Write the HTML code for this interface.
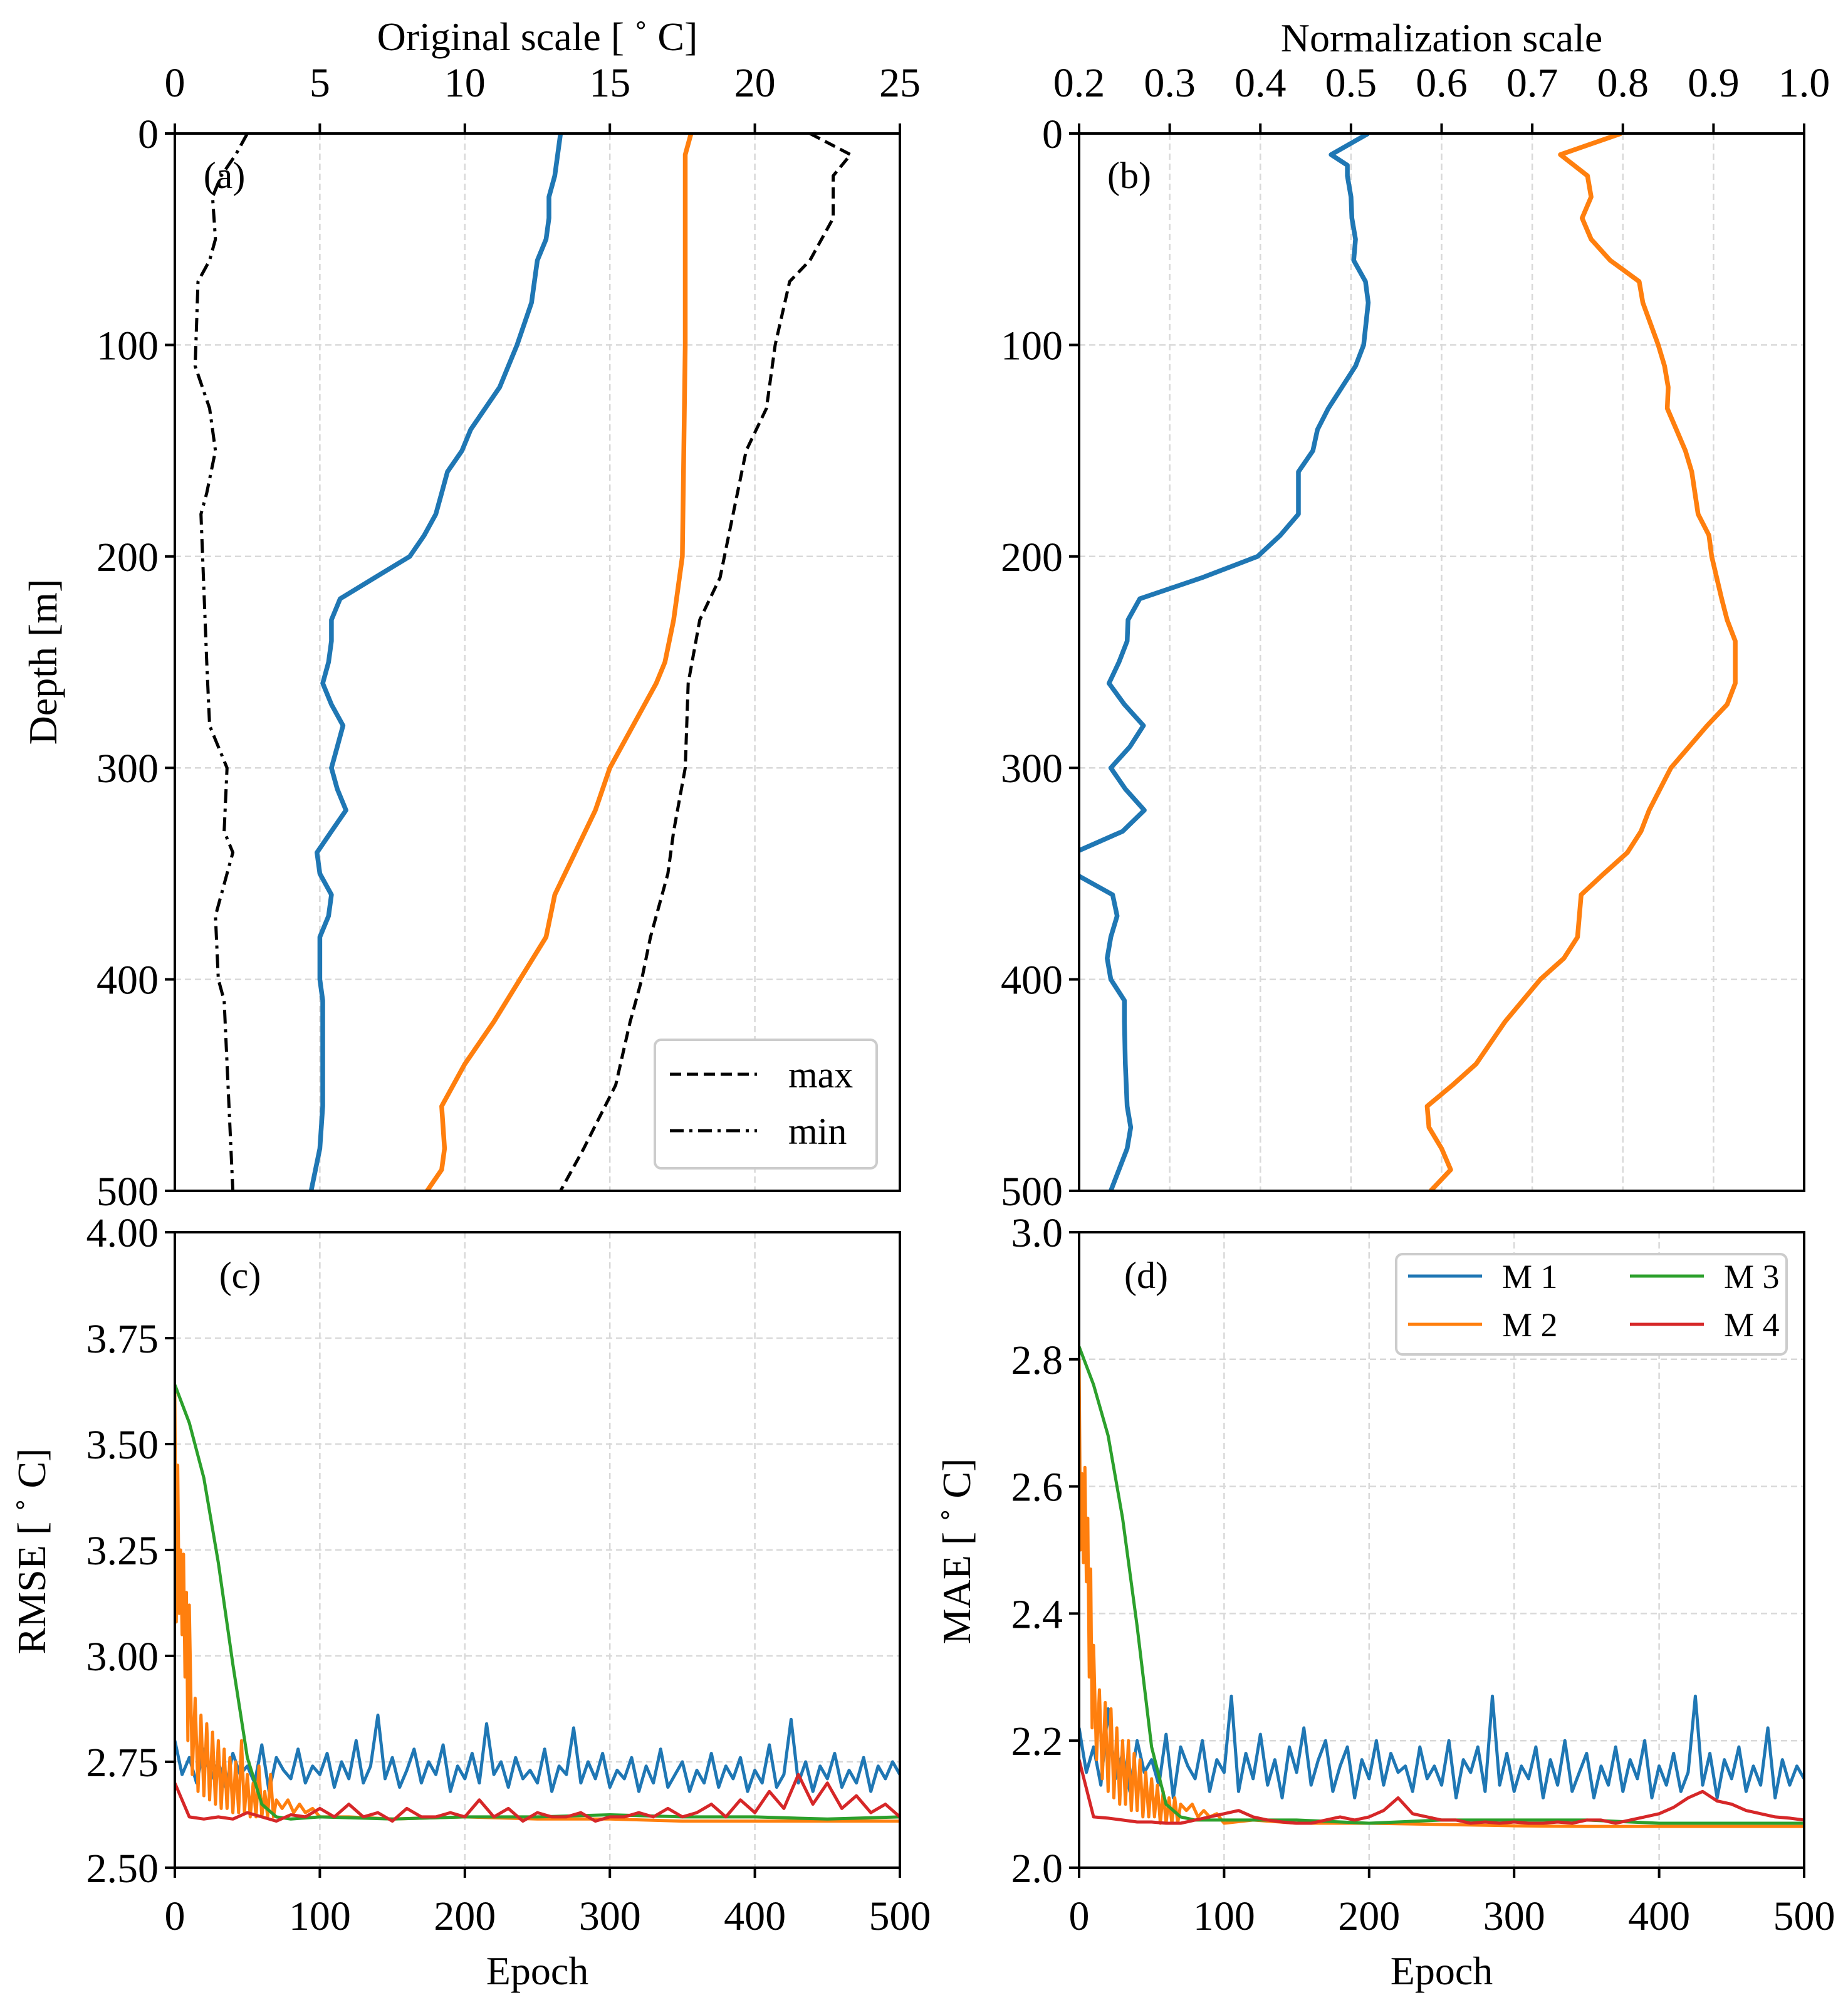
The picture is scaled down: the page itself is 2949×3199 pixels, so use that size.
<!DOCTYPE html>
<html><head><meta charset="utf-8"><style>
html,body{margin:0;padding:0;background:#fff}
svg{display:block;font-family:"Liberation Serif",serif}
</style></head><body>
<svg id="fig" width="2949" height="3199" viewBox="0 0 2949 3199" xmlns="http://www.w3.org/2000/svg"></svg>
<script>
// ---------- data: panel (a) ----------
const depthA1 = [0,10,20,30,40,50,60,80,100,110,120,130,140,150,160,170,180,190,200,210,220,230,240,250,260,270,280,290,300,310,320,330,340,350,360,370,380,390,400,410,420,440,460,480,500];
const blueA  = [13.3,13.2,13.1,12.9,12.9,12.8,12.5,12.3,11.8,11.5,11.2,10.7,10.2,9.9,9.4,9.2,9.0,8.6,8.1,6.9,5.7,5.4,5.4,5.3,5.1,5.4,5.8,5.6,5.4,5.6,5.9,5.4,4.9,5.0,5.4,5.3,5.0,5.0,5.0,5.1,5.1,5.1,5.1,5.0,4.7];
const depthA2 = [0,10,50,100,200,230,250,260,280,300,320,340,360,380,400,420,440,460,480,490,500];
const orangeA = [17.8,17.6,17.6,17.6,17.5,17.2,16.9,16.6,15.8,15.0,14.5,13.8,13.1,12.8,11.9,11.0,10.0,9.2,9.3,9.2,8.7];
const depthMax = [0,10,20,40,60,70,100,130,150,170,190,210,230,260,300,330,350,380,400,420,450,480,500];
const maxA = [21.9,23.3,22.7,22.7,21.9,21.2,20.7,20.4,19.7,19.4,19.1,18.8,18.1,17.7,17.6,17.2,17.0,16.4,16.1,15.7,15.2,14.1,13.3];
const depthMin = [0,10,20,30,50,60,70,110,130,150,170,180,250,280,300,330,340,350,370,400,410,500];
const minA = [2.5,2.1,1.6,1.3,1.4,1.2,0.8,0.7,1.2,1.4,1.1,0.9,1.1,1.2,1.8,1.7,2.0,1.8,1.4,1.5,1.7,2.0];
// ---------- data: panel (b) ----------
const depthB1 = [0,10,15,20,30,40,50,60,70,80,100,110,120,130,140,150,160,170,180,190,200,210,220,230,240,250,260,270,280,290,300,310,320,330,340,350,360,370,380,390,400,410,420,440,460,470,480,500];
const blueB = [0.519,0.478,0.496,0.496,0.50,0.501,0.505,0.503,0.516,0.519,0.514,0.505,0.49,0.475,0.463,0.458,0.442,0.442,0.442,0.422,0.397,0.336,0.267,0.254,0.253,0.244,0.233,0.25,0.271,0.256,0.235,0.251,0.272,0.248,0.195,0.195,0.237,0.242,0.235,0.231,0.235,0.25,0.25,0.251,0.253,0.257,0.253,0.235];
const depthB2 = [0,10,20,30,40,50,60,70,80,100,110,120,130,140,150,160,180,190,200,220,230,240,260,270,280,300,320,330,340,350,360,380,390,400,420,440,450,460,470,480,490,500];
const orangeB = [0.798,0.731,0.761,0.765,0.755,0.765,0.786,0.818,0.822,0.839,0.846,0.85,0.849,0.859,0.869,0.876,0.883,0.895,0.898,0.909,0.915,0.924,0.924,0.915,0.893,0.853,0.829,0.82,0.805,0.779,0.754,0.75,0.735,0.709,0.67,0.638,0.612,0.584,0.586,0.60,0.61,0.588];
// ---------- data: panel (c) RMSE ----------
const m1Rmse = [2.80,2.72,2.76,2.70,2.78,2.71,2.75,2.69,2.77,2.72,2.74,2.70,2.79,2.68,2.76,2.73,2.71,2.78,2.70,2.74,2.72,2.77,2.69,2.75,2.71,2.80,2.70,2.74,2.86,2.71,2.76,2.69,2.73,2.78,2.70,2.75,2.72,2.79,2.68,2.74,2.71,2.77,2.70,2.84,2.72,2.75,2.69,2.76,2.71,2.73,2.70,2.78,2.68,2.74,2.72,2.83,2.70,2.75,2.71,2.77,2.69,2.73,2.71,2.76,2.68,2.74,2.70,2.78,2.69,2.72,2.75,2.68,2.73,2.70,2.77,2.69,2.74,2.71,2.76,2.68,2.73,2.70,2.79,2.69,2.72,2.85,2.70,2.75,2.68,2.74,2.71,2.77,2.69,2.73,2.70,2.76,2.68,2.74,2.71,2.75,2.72];
const m2Epochs = [0,1,2,3,4,5,6,7,8,9,10,12,14,16,18,20,22,24,26,28,30,32,34,36,38,40,42,44,46,48,50,52,54,56,58,60,62,64,66,68,70,74,78,82,86,90,95,100,120,150,200,250,300,350,400,450,500];
const m2Rmse = [3.62,3.08,3.45,3.10,3.25,3.05,3.24,2.95,3.15,2.80,3.12,2.72,2.90,2.68,2.86,2.67,2.84,2.66,2.82,2.65,2.80,2.64,2.78,2.64,2.76,2.63,2.75,2.63,2.80,2.63,2.72,2.62,2.70,2.62,2.74,2.62,2.68,2.62,2.72,2.62,2.66,2.64,2.66,2.63,2.65,2.63,2.64,2.62,2.62,2.615,2.62,2.615,2.615,2.61,2.61,2.61,2.61];
const m3Epochs = [0,10,20,30,40,50,60,70,80,100,150,200,250,300,350,400,450,500];
const m3Rmse = [3.64,3.55,3.42,3.22,2.98,2.76,2.65,2.62,2.615,2.62,2.615,2.62,2.62,2.625,2.62,2.62,2.615,2.62];
const m4Rmse = [2.70,2.62,2.615,2.62,2.615,2.63,2.62,2.61,2.625,2.62,2.64,2.62,2.65,2.62,2.63,2.61,2.64,2.62,2.62,2.63,2.62,2.66,2.62,2.64,2.61,2.63,2.62,2.62,2.63,2.61,2.62,2.62,2.63,2.62,2.64,2.62,2.63,2.65,2.62,2.66,2.63,2.68,2.64,2.72,2.65,2.70,2.64,2.67,2.63,2.65,2.62];
// ---------- data: panel (d) MAE ----------
const m1Mae = [2.22,2.15,2.19,2.13,2.25,2.14,2.18,2.12,2.20,2.15,2.17,2.13,2.21,2.11,2.19,2.16,2.14,2.20,2.12,2.17,2.15,2.27,2.12,2.18,2.14,2.21,2.13,2.17,2.11,2.19,2.15,2.22,2.13,2.17,2.20,2.12,2.16,2.19,2.11,2.17,2.14,2.20,2.13,2.18,2.15,2.16,2.12,2.19,2.14,2.16,2.13,2.20,2.11,2.17,2.15,2.19,2.12,2.27,2.13,2.18,2.12,2.16,2.14,2.19,2.11,2.17,2.13,2.20,2.12,2.15,2.18,2.11,2.16,2.13,2.19,2.12,2.17,2.14,2.20,2.11,2.16,2.13,2.18,2.12,2.15,2.27,2.13,2.18,2.11,2.17,2.14,2.19,2.12,2.16,2.13,2.22,2.11,2.17,2.13,2.16,2.14];
const m2Mae = [2.80,2.50,2.62,2.48,2.63,2.45,2.55,2.30,2.47,2.22,2.35,2.17,2.28,2.14,2.26,2.12,2.25,2.11,2.22,2.10,2.20,2.10,2.20,2.09,2.18,2.09,2.17,2.08,2.15,2.08,2.14,2.08,2.13,2.07,2.12,2.07,2.11,2.07,2.11,2.07,2.10,2.09,2.10,2.08,2.09,2.08,2.085,2.07,2.075,2.07,2.07,2.068,2.066,2.065,2.065,2.065,2.065];
const m3Mae = [2.82,2.76,2.68,2.55,2.38,2.19,2.10,2.08,2.075,2.075,2.075,2.07,2.075,2.075,2.075,2.07,2.07,2.07];
const m4Mae = [2.17,2.08,2.078,2.075,2.072,2.072,2.07,2.07,2.075,2.08,2.085,2.09,2.08,2.075,2.072,2.07,2.07,2.075,2.08,2.075,2.08,2.09,2.11,2.085,2.08,2.075,2.075,2.07,2.072,2.07,2.072,2.07,2.07,2.072,2.07,2.075,2.075,2.07,2.075,2.08,2.085,2.095,2.11,2.12,2.105,2.10,2.09,2.085,2.08,2.078,2.075];
// ticks
const tempTicks = [0,5,10,15,20,25];
const normTicks = [0.2,0.3,0.4,0.5,0.6,0.7,0.8,0.9,1.0];
const normTickLabels = ["0.2","0.3","0.4","0.5","0.6","0.7","0.8","0.9","1.0"];
const depthTicks = [0,100,200,300,400,500];
const epochTicks = [0,100,200,300,400,500];
const rmseTicks = [2.5,2.75,3.0,3.25,3.5,3.75,4.0];
const rmseTickLabels = ["2.50","2.75","3.00","3.25","3.50","3.75","4.00"];
const maeTicks = [2.0,2.2,2.4,2.6,2.8,3.0];
const maeTickLabels = ["2.0","2.2","2.4","2.6","2.8","3.0"];

const BLUE="#1f77b4",ORANGE="#ff7f0e",GREEN="#2ca02c",RED="#d62728";
const NS="http://www.w3.org/2000/svg";
const svg=document.getElementById('fig');
function el(tag,attrs,parent,text){const e=document.createElementNS(NS,tag);for(const k in attrs)e.setAttribute(k,attrs[k]);if(text!==undefined)e.textContent=text;(parent||svg).appendChild(e);return e;}
function lin(d0,d1,r0,r1){return v=>r0+(v-d0)/(d1-d0)*(r1-r0);}
function seq(n,step){const a=[];for(let i=0;i<n;i++)a.push(i*step);return a;}

const LA=279,RA=1436,LB=1722,RB=2879,TA=213,BA=1900,TC=1966,BC=2980;
const FS=66, TFS=64;

function frame(name){
  const g=el('g',{});
  
  
  return g;
}
function polyline(g,xs,ys,fx,fy,color,w,dash,name){
  const n=Math.min(xs.length,ys.length);let pts=[];
  for(let i=0;i<n;i++)pts.push(fx(xs[i]).toFixed(1)+','+fy(ys[i]).toFixed(1));
  const p=el('polyline',{points:pts.join(' '),fill:'none',stroke:color,'stroke-width':w,'stroke-linejoin':'round'},g);
  if(dash)p.setAttribute('stroke-dasharray',dash);
  
  
  return p;
}
function vgrid(g,ticks,fx,t,b){ticks.forEach(v=>{const x=fx(v);const ln=el('line',{x1:x,x2:x,y1:t,y2:b,stroke:'#d9d9d9','stroke-width':2.5,'stroke-dasharray':'10,6'},g);});}
function hgrid(g,ticks,fy,l,r){ticks.forEach(v=>{const y=fy(v);const ln=el('line',{x1:l,x2:r,y1:y,y2:y,stroke:'#d9d9d9','stroke-width':2.5,'stroke-dasharray':'10,6'},g);});}
function xticks(g,ticks,labels,fx,y,dir,ly){ticks.forEach((v,i)=>{const x=fx(v);el('line',{x1:x,x2:x,y1:y,y2:y+dir*16,stroke:'#000','stroke-width':4},g);const t=el('text',{x:x,y:ly,'font-size':FS,'text-anchor':'middle'},g,labels[i]);});}
function yticks(g,ticks,labels,fy,x){ticks.forEach((v,i)=>{const y=fy(v);el('line',{x1:x,x2:x-16,y1:y,y2:y,stroke:'#000','stroke-width':4},g);const t=el('text',{x:x-26,y:y+23,'font-size':FS,'text-anchor':'end'},g,labels[i]);});}
function box(g,l,r,t,b){const e=el('rect',{x:l,y:t,width:r-l,height:b-t,fill:'none',stroke:'#000','stroke-width':4},g);}
function label(g,x,y,txt,name,fs){const t=el('text',{x:x,y:y,'font-size':fs||TFS,'text-anchor':'middle'},g,txt);}
function clip(id,l,r,t,b){const c=el('clipPath',{id:id});el('rect',{x:l,y:t,width:r-l,height:b-t},c);}

// ---------- Panel (a) ----------
(function(){
  const g=frame('panel-a');
  const fx=lin(0,25,LA,RA), fy=lin(0,500,TA,BA);
  vgrid(g,tempTicks,fx,TA,BA); hgrid(g,depthTicks,fy,LA,RA);
  clip('ca',LA,RA,TA,BA);
  const d=el('g',{'clip-path':'url(#ca)'},g);
  polyline(d,blueA,depthA1,fx,fy,BLUE,7.5,null,'profile-blue');
  polyline(d,orangeA,depthA2,fx,fy,ORANGE,7.5,null,'profile-orange');
  polyline(d,maxA,depthMax,fx,fy,'#000',5,'18,9','max-profile');
  polyline(d,minA,depthMin,fx,fy,'#000',5,'22,9,5,9','min-profile');
  box(g,LA,RA,TA,BA);
  xticks(g,tempTicks,tempTicks.map(String),fx,TA,-1,154);
  yticks(g,depthTicks,depthTicks.map(String),fy,LA);
  label(g,(LA+RA)/2,80,'Original scale [ ˚ C]','top-x-axis-title');
  const yt=el('text',{x:0,y:0,'font-size':TFS,'text-anchor':'middle',transform:'translate(90,1056) rotate(-90)'},g,'Depth [m]');
  
  label(g,358,300,'(a)','panel-label-a',60);
  const lg=el('g',{},g);
  el('rect',{x:1045,y:1659,width:354,height:205,rx:10,fill:'#fff',stroke:'#ccc','stroke-width':4},lg);
  el('line',{x1:1069,x2:1208,y1:1714,y2:1714,stroke:'#000','stroke-width':5,'stroke-dasharray':'18,9'},lg);
  const t1=el('text',{x:1258,y:1735,'font-size':60},lg,'max');
  el('line',{x1:1069,x2:1208,y1:1804,y2:1804,stroke:'#000','stroke-width':5,'stroke-dasharray':'22,9,5,9'},lg);
  const t2=el('text',{x:1258,y:1825,'font-size':60},lg,'min');
})();

// ---------- Panel (b) ----------
(function(){
  const g=frame('panel-b');
  const fx=lin(0.2,1.0,LB,RB), fy=lin(0,500,TA,BA);
  vgrid(g,normTicks,fx,TA,BA); hgrid(g,depthTicks,fy,LB,RB);
  clip('cb',LB,RB,TA,BA);
  const d=el('g',{'clip-path':'url(#cb)'},g);
  polyline(d,blueB,depthB1,fx,fy,BLUE,7.5,null,'normalized-profile-blue');
  polyline(d,orangeB,depthB2,fx,fy,ORANGE,7.5,null,'normalized-profile-orange');
  box(g,LB,RB,TA,BA);
  xticks(g,normTicks,normTickLabels,fx,TA,-1,154);
  yticks(g,depthTicks,depthTicks.map(String),fy,LB);
  label(g,(LB+RB)/2,82,'Normalization scale','top-x-axis-title-b');
  label(g,1802,300,'(b)','panel-label-b',60);
})();

// ---------- Panel (c) ----------
(function(){
  const g=frame('panel-c');
  const fx=lin(0,500,LA,RA), fy=lin(2.5,4.0,BC,TC);
  vgrid(g,epochTicks,fx,TC,BC); hgrid(g,rmseTicks,fy,LA,RA);
  clip('cc',LA,RA,TC,BC);
  const d=el('g',{'clip-path':'url(#cc)'},g);
  polyline(d,seq(m1Rmse.length,5),m1Rmse,fx,fy,BLUE,5,null,'rmse-m1');
  polyline(d,m2Epochs,m2Rmse,fx,fy,ORANGE,5,null,'rmse-m2');
  polyline(d,m3Epochs,m3Rmse,fx,fy,GREEN,5,null,'rmse-m3');
  polyline(d,seq(m4Rmse.length,10),m4Rmse,fx,fy,RED,5,null,'rmse-m4');
  box(g,LA,RA,TC,BC);
  xticks(g,epochTicks,epochTicks.map(String),fx,BC,1,3079);
  yticks(g,rmseTicks,rmseTickLabels,fy,LA);
  label(g,(LA+RA)/2,3166,'Epoch','x-axis-title-c');
  const yt=el('text',{x:0,y:0,'font-size':TFS,'text-anchor':'middle',transform:'translate(72,2475) rotate(-90)'},g,'RMSE [ ˚ C]');
  
  label(g,383,2055,'(c)','panel-label-c',60);
})();

// ---------- Panel (d) ----------
(function(){
  const g=frame('panel-d');
  const fx=lin(0,500,LB,RB), fy=lin(2.0,3.0,BC,TC);
  vgrid(g,epochTicks,fx,TC,BC); hgrid(g,maeTicks,fy,LB,RB);
  clip('cd',LB,RB,TC,BC);
  const d=el('g',{'clip-path':'url(#cd)'},g);
  polyline(d,seq(m1Mae.length,5),m1Mae,fx,fy,BLUE,5,null,'mae-m1');
  polyline(d,m2Epochs,m2Mae,fx,fy,ORANGE,5,null,'mae-m2');
  polyline(d,m3Epochs,m3Mae,fx,fy,GREEN,5,null,'mae-m3');
  polyline(d,seq(m4Mae.length,10),m4Mae,fx,fy,RED,5,null,'mae-m4');
  box(g,LB,RB,TC,BC);
  xticks(g,epochTicks,epochTicks.map(String),fx,BC,1,3079);
  yticks(g,maeTicks,maeTickLabels,fy,LB);
  label(g,(LB+RB)/2,3166,'Epoch','x-axis-title-d');
  const yt=el('text',{x:0,y:0,'font-size':TFS,'text-anchor':'middle',transform:'translate(1548,2475) rotate(-90)'},g,'MAE [ ˚ C]');
  
  label(g,1829,2055,'(d)','panel-label-d',60);
  const lg=el('g',{},g);
  el('rect',{x:2228,y:2001,width:623,height:160,rx:10,fill:'#fff',stroke:'#ccc','stroke-width':4},lg);
  const ents=[['M 1',BLUE,2247,2036],['M 2',ORANGE,2247,2113],['M 3',GREEN,2601,2036],['M 4',RED,2601,2113]];
  ents.forEach(e=>{
    el('line',{x1:e[2],x2:e[2]+118,y1:e[3],y2:e[3],stroke:e[1],'stroke-width':5},lg);
    const t=el('text',{x:e[2]+150,y:e[3]+19,'font-size':54},lg,e[0]);
    
    
  });
})();
</script>
</body></html>
